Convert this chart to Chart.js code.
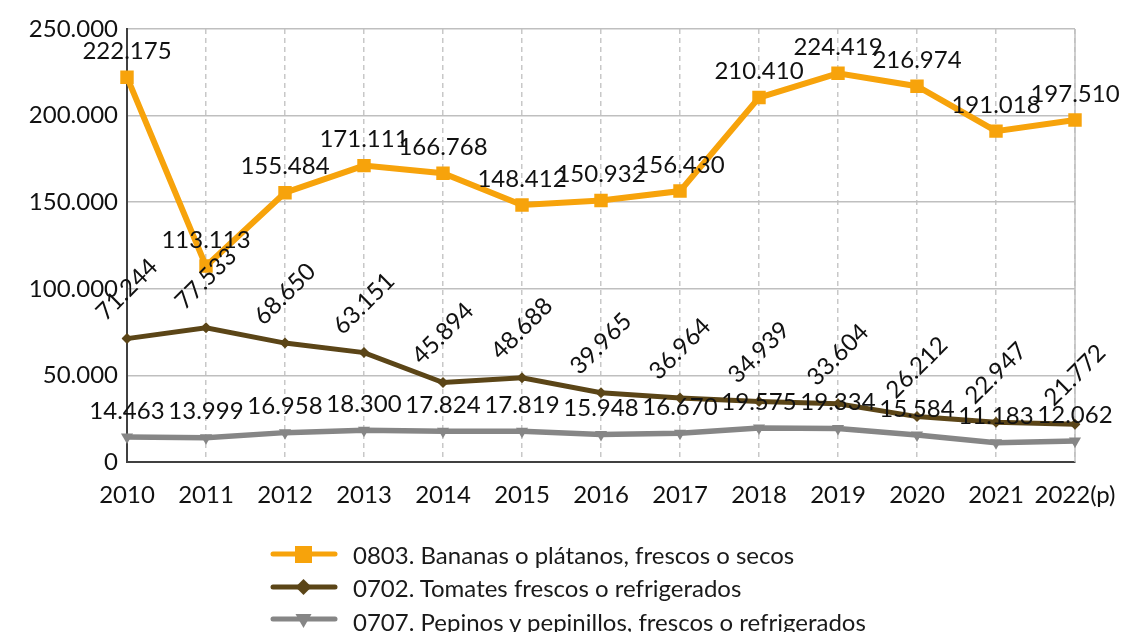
<!DOCTYPE html>
<html>
<head>
<meta charset="utf-8">
<script src="https://cdn.jsdelivr.net/npm/chart.js@4.4.1/dist/chart.umd.min.js"></script>
<style>
  html, body { margin: 0; padding: 0; background: #ffffff; }
  #wrap { position: relative; width: 1122px; height: 632px; overflow: hidden; }
  canvas { position: absolute; left: 0; top: 0; }
  .leg { position: absolute; left: 270px; height: 30px; display: flex; align-items: center;
         font-family: Lato, "Open Sans", sans-serif; font-size: 24px; color: #1a1a1a; white-space: nowrap; }
  .leg svg { width: 68px; height: 24px; margin-right: 15px; }
</style>
</head>
<body>
<div id="wrap">
  <canvas id="c" width="1122" height="632"></canvas>
  <div class="leg" style="top:539px">
    <svg viewBox="0 0 68 24"><line x1="3" y1="12" x2="65" y2="12" stroke="#F7A30B" stroke-width="5" stroke-linecap="round"/><rect x="25" y="4" width="17" height="17" fill="#F7A30B"/></svg>
    <span id="l0"></span>
  </div>
  <div class="leg" style="top:572px">
    <svg viewBox="0 0 68 24"><line x1="3" y1="12" x2="65" y2="12" stroke="#5B4517" stroke-width="5" stroke-linecap="round"/><polygon points="33.5,4 41.5,12 33.5,20 25.5,12" fill="#5B4517"/></svg>
    <span id="l1"></span>
  </div>
  <div class="leg" style="top:606px">
    <svg viewBox="0 0 68 24"><line x1="3" y1="10" x2="65" y2="10" stroke="#868686" stroke-width="5" stroke-linecap="round"/><polygon points="25.5,5 41.5,5 33.5,19" fill="#868686"/></svg>
    <span id="l2"></span>
  </div>
</div>
<script>
const categories = ["2010","2011","2012","2013","2014","2015","2016","2017","2018","2019","2020","2021","2022(p)"];
const seriesNames = [
  "0803. Bananas o plátanos, frescos o secos",
  "0702. Tomates frescos o refrigerados",
  "0707. Pepinos y pepinillos, frescos o refrigerados"
];
const bananas  = [222175, 113113, 155484, 171111, 166768, 148412, 150932, 156430, 210410, 224419, 216974, 191018, 197510];
const tomatoes = [71244, 77533, 68650, 63151, 45894, 48688, 39965, 36964, 34939, 33604, 26212, 22947, 21772];
const pepinos  = [14463, 13999, 16958, 18300, 17824, 17819, 15948, 16670, 19575, 19334, 15584, 11183, 12062];
const yTicks = [0, 50000, 100000, 150000, 200000, 250000];

document.getElementById('l0').textContent = seriesNames[0];
document.getElementById('l1').textContent = seriesNames[1];
document.getElementById('l2').textContent = seriesNames[2];

const FONT = 'Lato, "Open Sans", sans-serif';
const FSIZE = 24;
function fmt(v) {
  return String(Math.round(v)).replace(/\B(?=(\d{3})+(?!\d))/g, '.');
}

const labelPlugin = {
  id: 'valueLabels',
  afterDatasetsDraw(chart) {
    const ctx = chart.ctx;
    ctx.save();
    ctx.font = FSIZE + 'px ' + FONT;
    ctx.fillStyle = '#111111';
    ctx.textAlign = 'center';
    ctx.textBaseline = 'middle';
    chart.data.datasets.forEach((ds, i) => {
      const meta = chart.getDatasetMeta(i);
      meta.data.forEach((pt, j) => {
        const txt = fmt(ds.data[j]);
        if (ds.labelRotate) {
          ctx.save();
          ctx.translate(pt.x, pt.y - 49);
          ctx.rotate(-Math.PI / 4);
          ctx.fillText(txt, 0, 0);
          ctx.restore();
        } else {
          ctx.fillText(txt, pt.x, pt.y - 26);
        }
      });
    });
    ctx.restore();
  }
};

const framePlugin = {
  id: 'frame',
  beforeDatasetsDraw(chart) {
    const a = chart.chartArea, ctx = chart.ctx;
    ctx.save();
    ctx.strokeStyle = '#bfbfbf';
    ctx.lineWidth = 1.5;
    ctx.beginPath();
    ctx.moveTo(a.right, a.top);
    ctx.lineTo(a.right, a.bottom);
    ctx.stroke();
    ctx.restore();
  }
};

new Chart(document.getElementById('c'), {
  type: 'line',
  data: {
    labels: categories,
    datasets: [
      {
        label: seriesNames[0], data: bananas,
        borderColor: '#F7A30B', backgroundColor: '#F7A30B', borderWidth: 6,
        pointStyle: 'rect', pointRadius: 9.5, pointBorderWidth: 0, pointBackgroundColor: '#F7A30B',
        tension: 0, labelRotate: false
      },
      {
        label: seriesNames[1], data: tomatoes,
        borderColor: '#5B4517', backgroundColor: '#5B4517', borderWidth: 5,
        pointStyle: 'rectRot', pointRadius: 5.5, pointBorderWidth: 0, pointBackgroundColor: '#5B4517',
        tension: 0, labelRotate: true
      },
      {
        label: seriesNames[2], data: pepinos,
        borderColor: '#868686', backgroundColor: '#868686', borderWidth: 5.5,
        pointStyle: 'triangle', rotation: 180, pointRadius: 7, pointBorderWidth: 0, pointBackgroundColor: '#868686',
        tension: 0, labelRotate: false
      }
    ]
  },
  options: {
    responsive: false,
    animation: false,
    devicePixelRatio: 1,
    layout: { autoPadding: false, padding: { left: 0, right: 47, top: 29, bottom: 120 } },
    plugins: { legend: { display: false }, tooltip: { enabled: false } },
    scales: {
      x: {
        grid: { color: '#c8c8c8', lineWidth: 1.5, drawTicks: false },
        border: { display: true, color: '#404040', width: 2, dash: [5, 4] },
        ticks: { color: '#111111', font: { family: FONT, size: FSIZE }, padding: 19, maxRotation: 0, autoSkip: false },
        afterFit(s) { s.height = 50; s.paddingLeft = 0; s.paddingRight = 0; }
      },
      y: {
        min: 0, max: 250000,
        afterBuildTicks(s) { s.ticks = yTicks.map(v => ({ value: v })); },
        grid: { color: '#bfbfbf', lineWidth: 1.5, drawTicks: false },
        border: { display: true, color: '#404040', width: 2 },
        ticks: { color: '#111111', font: { family: FONT, size: FSIZE }, padding: 9, callback: v => fmt(v) },
        afterFit(s) { s.width = 127; s.paddingTop = 0; s.paddingBottom = 0; }
      }
    }
  },
  plugins: [framePlugin, labelPlugin]
});
</script>
</body>
</html>
